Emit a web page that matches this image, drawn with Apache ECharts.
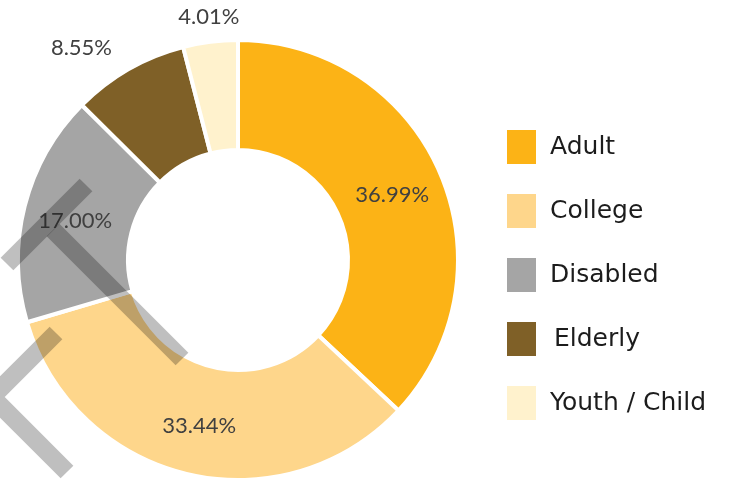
<!DOCTYPE html>
<html>
<head>
<meta charset="utf-8">
<script src="https://cdn.jsdelivr.net/npm/echarts@6/dist/echarts.min.js"></script>
<style>
  html, body { margin: 0; padding: 0; background: #fff; }
  #chart { width: 730px; height: 481px; }
</style>
</head>
<body>
<div id="chart"></div>
<script>
const categories = ['Adult', 'College', 'Disabled', 'Elderly', 'Youth / Child'];
const shares = [36.99, 33.44, 17.00, 8.55, 4.01];
const colors = ['#FCB316', '#FED68B', '#A5A5A5', '#7F6027', '#FFF2CD'];

// Elderly and Youth labels sit outside the ring
const labelShift = {3: [-73, -66], 4: [-8, -76]};

const chart = echarts.init(document.getElementById('chart'));

const strokeStyle = {
  fill: null,
  stroke: 'rgba(0,0,0,0.25)',
  lineWidth: 18,
  lineJoin: 'miter',
  lineCap: 'butt'
};

chart.setOption({
  animation: false,
  color: colors,
  legend: {
    orient: 'vertical',
    left: 505,
    top: 128,
    padding: 0,
    icon: 'rect',
    itemWidth: 31,
    itemHeight: 36,
    itemGap: 26,
    data: categories.map((name) => name === 'Elderly'
      ? {name: name, textStyle: {padding: [0, 0, 0, 12]}}
      : name),
    textStyle: {
      fontFamily: 'DejaVu Sans',
      fontSize: 25,
      color: '#1c1c1c',
      padding: [0, 0, 0, 8]
    }
  },
  series: [
    {
      type: 'pie',
      center: [238, 260],
      radius: [110, 220],
      startAngle: 90,
      clockwise: true,
      itemStyle: {
        borderColor: '#fff',
        borderWidth: 4
      },
      label: {
        show: true,
        position: 'inside',
        formatter: (p) => p.value.toFixed(2) + '%',
        fontFamily: 'Lato',
        fontSize: 22,
        color: '#404040'
      },
      labelLine: {show: false},
      labelLayout: (params) => {
        const s = labelShift[params.dataIndex];
        return s ? {dx: s[0], dy: s[1]} : {dy: 2};
      },
      emphasis: {disabled: true},
      data: categories.map((name, i) => ({name: name, value: shares[i]}))
    }
  ],
  graphic: [
    {
      type: 'polyline', z: 100, silent: true,
      shape: {points: [[86, 185], [7, 264]]},
      style: strokeStyle
    },
    {
      type: 'polyline', z: 100, silent: true,
      shape: {points: [[53, 230], [182, 359]]},
      style: strokeStyle
    },
    {
      type: 'polyline', z: 100, silent: true,
      shape: {points: [[56, 333], [-8, 397], [67, 472]]},
      style: strokeStyle
    }
  ]
});
</script>
</body>
</html>
